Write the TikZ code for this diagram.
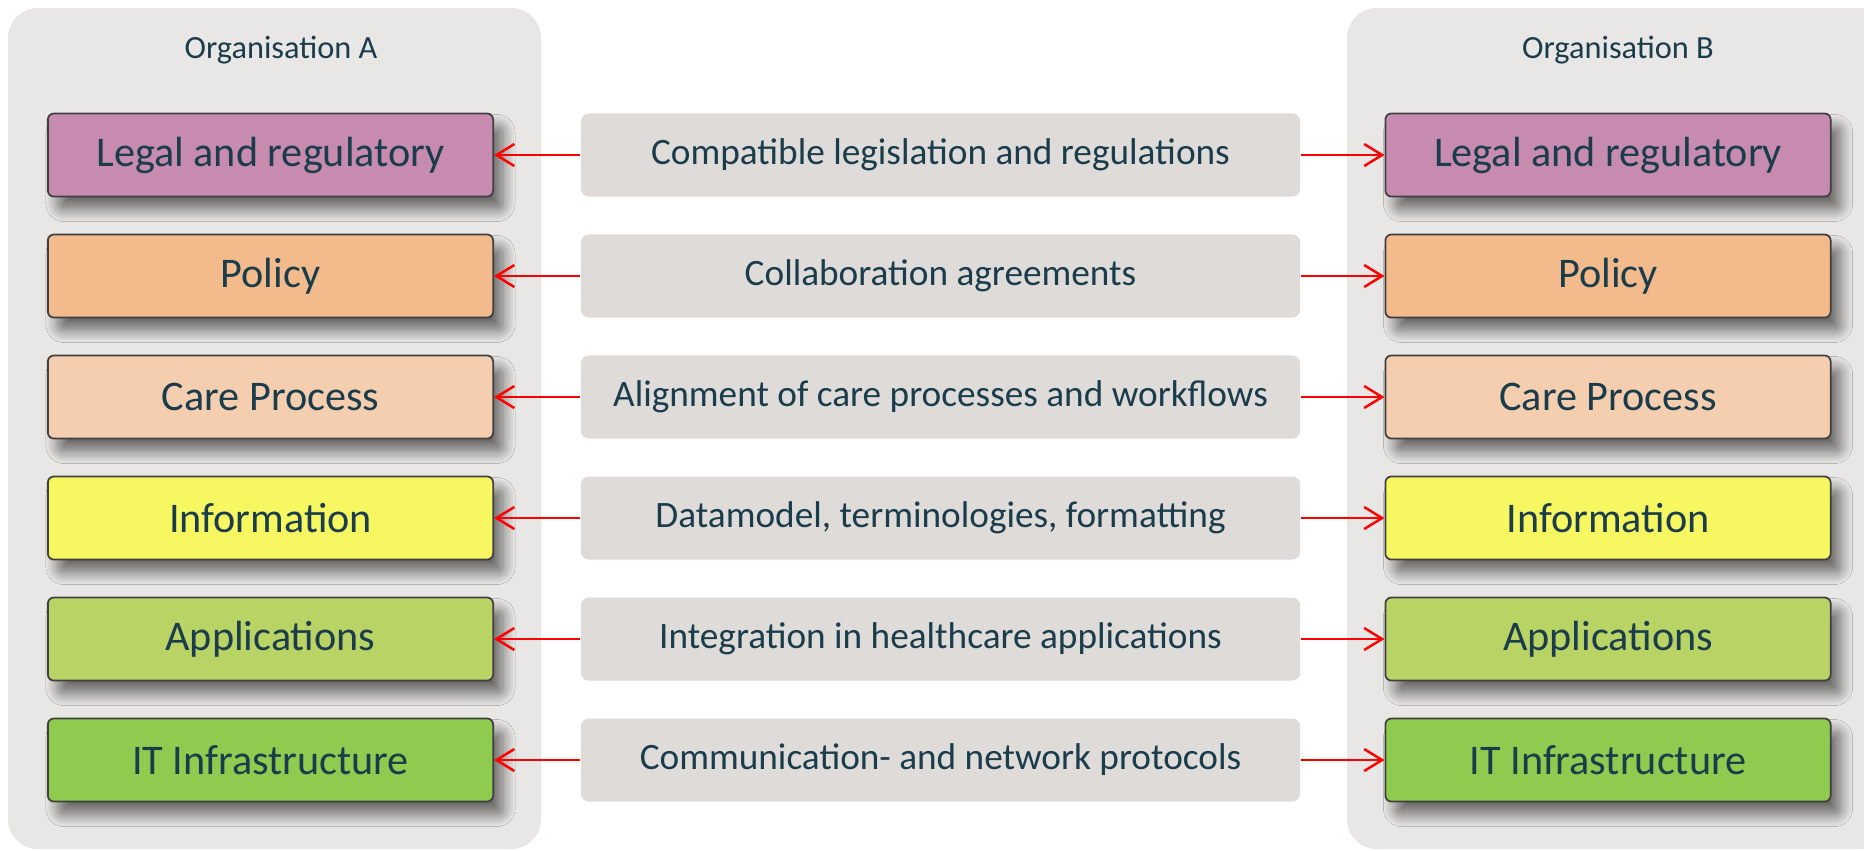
\documentclass[tikz,border=0pt]{standalone}
\usepackage{fontspec}
\setmainfont{Carlito}
\usetikzlibrary{arrows.meta,shadows.blur}

\definecolor{panelgrey}{HTML}{E8E7E5}
\definecolor{linkgrey}{HTML}{DEDBD8}
\definecolor{inkteal}{HTML}{1A3C4B}
\definecolor{legalcol}{HTML}{C88BB0}
\definecolor{policycol}{HTML}{F3BA8C}
\definecolor{carecol}{HTML}{F5CEB0}
\definecolor{infocol}{HTML}{F7F761}
\definecolor{appcol}{HTML}{B9D465}
\definecolor{itcol}{HTML}{8FCB4F}

\tikzset{
	panel/.style={fill=panelgrey, rounded corners=0.3cm},
	orgtitle/.style={text=inkteal, font=\fontsize{9.2}{11}\selectfont},
	layer/.style={draw=black!75, line width=0.5pt, rounded corners=0.6mm, minimum width=4.45cm, minimum height=0.83cm, text=inkteal, font=\fontsize{12}{14}\selectfont, blur shadow={shadow xshift=0.1cm, shadow yshift=-0.13cm, shadow blur radius=0.12cm, shadow blur steps=16, shadow opacity=55}},
	link/.style={fill=linkgrey, rounded corners=0.8mm, minimum width=7.19cm, minimum height=0.83cm, text=inkteal, font=\fontsize{10.6}{13}\selectfont},
	relation/.style={red, line width=0.7pt, -{Straight Barb[length=1.8mm,width=2.2mm]}}
}

\begin{document}
\begin{tikzpicture}[x=0.01cm, y=-0.01cm]
		%%%%% START %%%%%
		
		\clip (0, 0) rectangle (1864, 850);
		\fill[white] (0, 0) rectangle (1864, 850);
		
		\fill[panel] (8, 8) rectangle (541, 849);
		\fill[panel] (1347, 8) rectangle (1890, 849);
		\node[orgtitle] (titleA) at (281, 50) {Organisation A};
		\node[orgtitle] (titleB) at (1618, 50) {Organisation B};
		
		\node[layer, fill=legalcol] (legalA) at (270.5, 155) {Legal and regulatory};
		\node[layer, fill=policycol] (policyA) at (270.5, 276) {Policy};
		\node[layer, fill=carecol] (careA) at (270.5, 397) {Care Process};
		\node[layer, fill=infocol] (infoA) at (270.5, 518) {Information};
		\node[layer, fill=appcol] (appA) at (270.5, 639) {Applications};
		\node[layer, fill=itcol] (itA) at (270.5, 760) {IT Infrastructure};
		
		\node[layer, fill=legalcol] (legalB) at (1608, 155) {Legal and regulatory};
		\node[layer, fill=policycol] (policyB) at (1608, 276) {Policy};
		\node[layer, fill=carecol] (careB) at (1608, 397) {Care Process};
		\node[layer, fill=infocol] (infoB) at (1608, 518) {Information};
		\node[layer, fill=appcol] (appB) at (1608, 639) {Applications};
		\node[layer, fill=itcol] (itB) at (1608, 760) {IT Infrastructure};
		
		\node[link] (legalM) at (940.5, 155) {Compatible legislation and regulations};
		\node[link] (policyM) at (940.5, 276) {Collaboration agreements};
		\node[link] (careM) at (940.5, 397) {Alignment of care processes and workflows};
		\node[link] (infoM) at (940.5, 518) {Datamodel, terminologies, formatting};
		\node[link] (appM) at (940.5, 639) {Integration in healthcare applications};
		\node[link] (itM) at (940.5, 760) {Communication- and network protocols};
		
		\draw[relation] (legalM) -- (legalA);
		\draw[relation] (legalM) -- (legalB);
		\draw[relation] (policyM) -- (policyA);
		\draw[relation] (policyM) -- (policyB);
		\draw[relation] (careM) -- (careA);
		\draw[relation] (careM) -- (careB);
		\draw[relation] (infoM) -- (infoA);
		\draw[relation] (infoM) -- (infoB);
		\draw[relation] (appM) -- (appA);
		\draw[relation] (appM) -- (appB);
		\draw[relation] (itM) -- (itA);
		\draw[relation] (itM) -- (itB);
		
		%%%%% END %%%%%
	\end{tikzpicture}
\end{document}
